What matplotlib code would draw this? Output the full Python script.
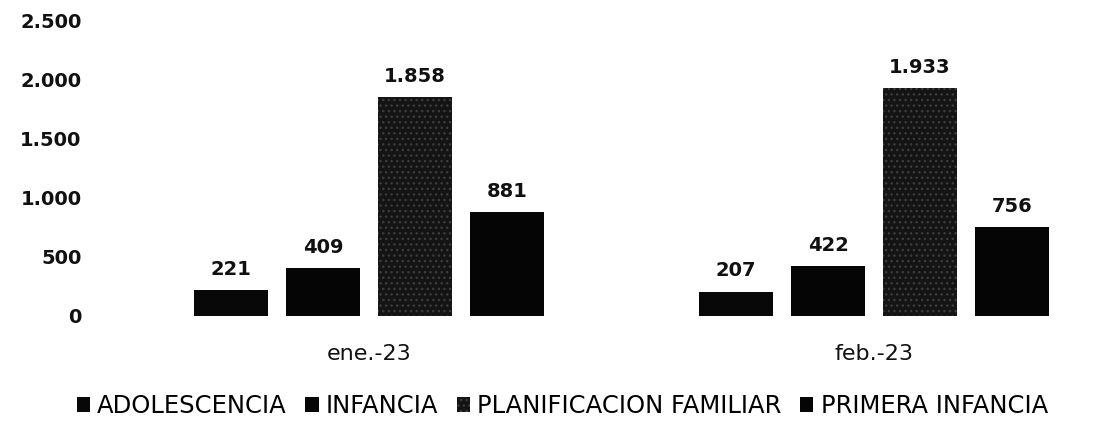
import matplotlib
matplotlib.use("Agg")
import matplotlib.pyplot as plt
import numpy as np

categories = ["ene.-23", "feb.-23"]
series_names = ["ADOLESCENCIA", "INFANCIA", "PLANIFICACION FAMILIAR", "PRIMERA INFANCIA"]
adolescencia = [221, 207]
infancia = [409, 422]
planificacion = [1858, 1933]
primera_infancia = [881, 756]
yticks = [0, 500, 1000, 1500, 2000, 2500]
ytick_labels = ["0", "500", "1.000", "1.500", "2.000", "2.500"]

values = [adolescencia, infancia, planificacion, primera_infancia]
colors = ["#080808", "#050505", "#141414", "#050505"]
hatches = [None, None, "...", None]

fig = plt.figure(figsize=(10.98, 4.25), dpi=100)
ax = fig.add_axes([0.106, 0.2565, 0.92, 0.6945])

x = np.arange(len(categories))
width = 0.146
step = 0.182
offsets = (np.arange(4) - 1.5) * step

def fmt(v):
    return f"{v:,}".replace(",", ".")

for i, (name, vals) in enumerate(zip(series_names, values)):
    bars = ax.bar(x + offsets[i], vals, width, color=colors[i], label=name,
                  hatch=hatches[i], edgecolor="#3c3c3c" if hatches[i] else colors[i],
                  linewidth=0)
    for b, v in zip(bars, vals):
        ax.annotate(fmt(v), (b.get_x() + b.get_width() / 2, v), xytext=(0, 8),
                    textcoords="offset points", ha="center", va="bottom",
                    fontsize=14, fontweight="bold", fontfamily="DejaVu Sans",
                    color="#111111")

ax.set_xlim(-0.5, 1.5)
ax.set_ylim(0, 2500)
ax.set_yticks(yticks)
ax.set_yticklabels(ytick_labels, fontsize=14, fontweight="bold",
                   fontfamily="DejaVu Sans", color="#111111")
ax.set_xticks(x)
ax.set_xticklabels(categories, fontsize=16, fontfamily="DejaVu Sans", color="#111111")
ax.tick_params(axis="y", length=0, pad=25)
ax.tick_params(axis="x", length=0, pad=20)
for s in ax.spines.values():
    s.set_visible(False)

leg = fig.legend(loc="center", bbox_to_anchor=(0.512, 0.045), ncol=4, frameon=False,
                 prop={"family": "DejaVu Sans", "size": 17.5}, handlelength=0.55,
                 handleheight=0.55, handletextpad=0.3, columnspacing=0.75,
                 borderpad=0, borderaxespad=0)

fig.savefig("out.png", dpi=100)
